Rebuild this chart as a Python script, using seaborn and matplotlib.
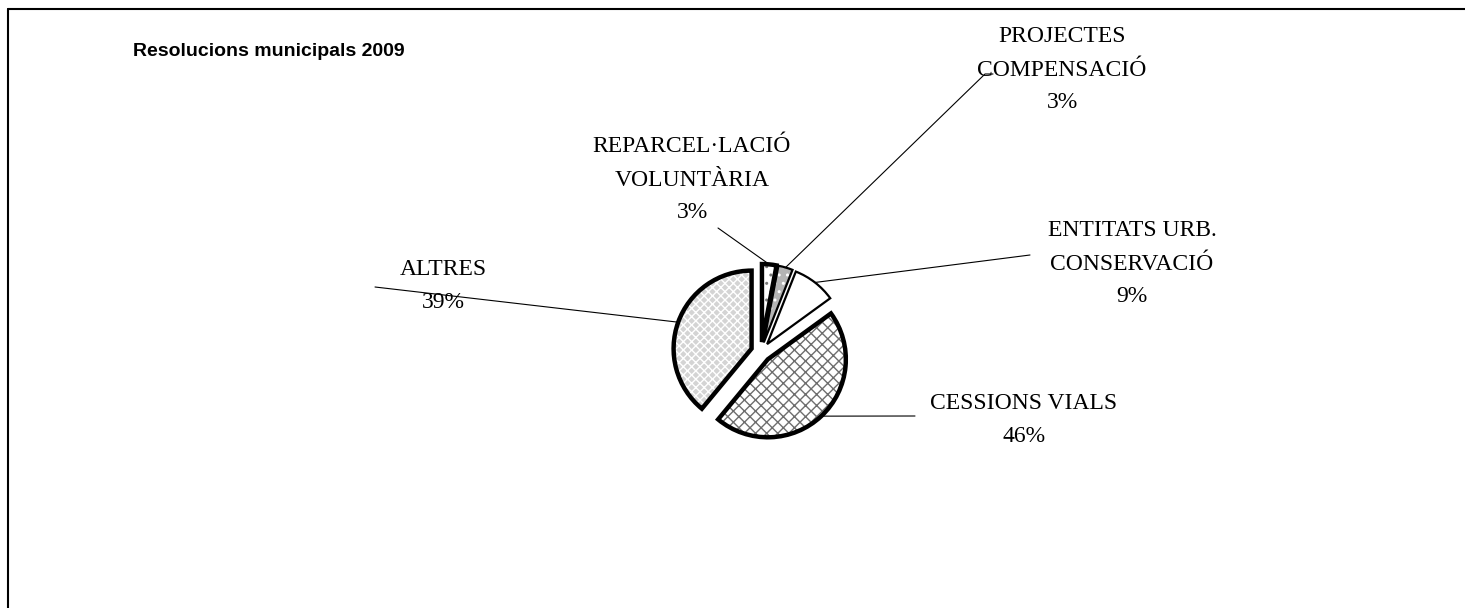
import numpy as np
import matplotlib
matplotlib.use("Agg")
import matplotlib.pyplot as plt
from matplotlib import font_manager
import seaborn as sns

# Data
categories = ["REPARCEL·LACIÓ\nVOLUNTÀRIA", "PROJECTES\nCOMPENSACIÓ", "ENTITATS URB.\nCONSERVACIÓ",
              "CESSIONS VIALS", "ALTRES"]
values = [3, 3, 9, 46, 39]
title = "Resolucions municipals 2009"

sns.set_theme(style="white")
plt.rcParams['font.family'] = ['Liberation Serif', 'DejaVu Serif']
plt.rcParams['hatch.linewidth'] = 1.0

installed = {f.name for f in font_manager.fontManager.ttflist}
title_font = "Liberation Sans Narrow" if "Liberation Sans Narrow" in installed else "Liberation Sans"
title_size = 16 if title_font == "Liberation Sans Narrow" else 14

W, H = 1465, 608
fig = plt.figure(figsize=(W / 100, H / 100), dpi=100)
ax = fig.add_axes([0, 0, 1, 1])

# wedge styles (fill, pattern, pattern colour, outline width)
colors = ["white", "#b4b4b4", "white", "white", "#d4d4d4"]
hatches = ["..", "..", "", "xxx", "xxxx"]
hatch_colors = ["#7a7a7a", "white", "white", "#6e6e6e", "white"]
outline_w = [3.2, 1.6, 1.6, 3.2, 3.2]
explode = [10] * len(values)  # pixels
center = (761, H - 352)
radius = 78

wedges, _ = ax.pie(values, colors=colors, explode=explode, startangle=90, counterclock=False,
                   center=center, radius=radius, frame=True, hatch=hatches,
                   wedgeprops=dict(linewidth=0))
for w, hc in zip(wedges, hatch_colors):
    w.set_edgecolor(hc)

outlines, _ = ax.pie(values, explode=explode, startangle=90, counterclock=False,
                     center=center, radius=radius, frame=True,
                     wedgeprops=dict(fill=False, edgecolor="black"))
for w, lw in zip(outlines, outline_w):
    w.set_linewidth(lw)
    w.set_joinstyle("miter")

ax.set_xlim(0, W)
ax.set_ylim(0, H)
ax.set_aspect("equal")
ax.set_axis_off()

# label placement (pixels from top-left) and leader line ends
label_pos = [(692, 180), (1062, 70), (1132, 264), (1024, 420), (443, 286)]
line_end = [[(718, 228)], [(985, 74), (993, 74)], [(1030, 255)], [(915, 416)], [(375, 287)]]

for w, cat, v, (lx, ly), ends in zip(outlines, categories, values, label_pos, line_end):
    mid = np.deg2rad((w.theta1 + w.theta2) / 2)
    cx, cy = w.center
    px = cx + w.r * np.cos(mid)
    py = cy + w.r * np.sin(mid)
    xs = [px] + [e[0] for e in ends]
    ys = [py] + [H - e[1] for e in ends]
    ax.plot(xs, ys, color="black", lw=0.8)
    ax.text(lx, H - ly, f"{cat}\n{v}%", ha="center", va="center", fontsize=17,
            linespacing=1.75, color="black")

fig.text(133 / W, 1 - 52 / H, title, ha="left", va="center", fontsize=title_size,
         fontweight="bold", color="black", family=[title_font, "DejaVu Sans"])

# chart border (top and left visible)
fig.add_artist(plt.Line2D([8 / W, 1], [1 - 9 / H, 1 - 9 / H], color="black", lw=1.5,
                          transform=fig.transFigure))
fig.add_artist(plt.Line2D([8 / W, 8 / W], [0, 1 - 9 / H], color="black", lw=1.5,
                          transform=fig.transFigure))

fig.savefig("out.png", dpi=100, facecolor="white")
